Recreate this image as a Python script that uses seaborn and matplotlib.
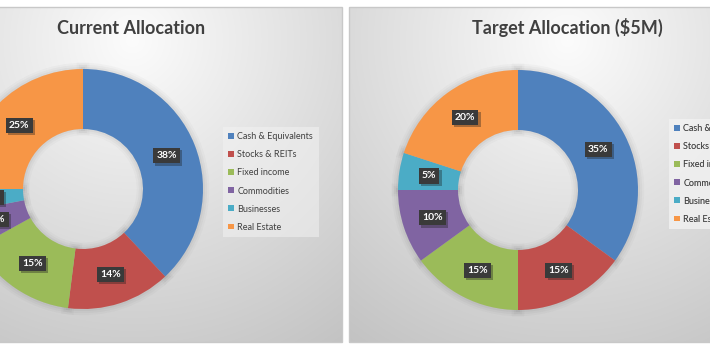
import numpy as np
import matplotlib
matplotlib.use("Agg")
import matplotlib.pyplot as plt
import matplotlib.patheffects as pe
from matplotlib.patches import Rectangle
import seaborn as sns

# ---- data ----
categories = ["Cash & Equivalents", "Stocks & REITs", "Fixed income",
              "Commodities", "Businesses", "Real Estate"]
current_values = [38, 14, 15, 5, 3, 25]
target_values = [35, 15, 15, 10, 5, 20]
titles = ["Current Allocation", "Target Allocation ($5M)"]
colors = ["#4F81BD", "#C0504D", "#9BBB59", "#8064A2", "#4BACC6", "#F79646"]

sns.set_theme(style="white")
plt.rcParams['font.family'] = ['Lato', 'DejaVu Sans']

W, H = 710, 349
fig = plt.figure(figsize=(W / 100, H / 100), dpi=100)
fig.patch.set_facecolor("white")
ax = fig.add_axes([0, 0, 1, 1])


def Y(y):
    return H - y


# layout of the two chart panels (pixel positions, measured from the top)
panels = [
    dict(x0=-86, x1=342, cx=83, cy=189, tx=131, ty=28, lx=223, ly=127),
    dict(x0=349, x1=777, cx=518, cy=190, tx=567, ty=27, lx=669, ly=119),
]
py0, py1 = 7, 342
series = [current_values, target_values]

for p, vals, title in zip(panels, series, titles):
    # radial gradient background
    xs = np.arange(p["x0"], p["x1"])
    ys = np.arange(py0, py1)
    XX, YY = np.meshgrid(xs, ys)
    gcx = p["x0"] + 218
    d = np.hypot(XX - gcx, (YY - 40) * 1.0)
    g = np.clip(252 - 0.155 * d, 188, 253) / 255.0
    img = np.dstack([g, g, g])
    ax.imshow(img, extent=(p["x0"], p["x1"], Y(py1), Y(py0)), origin="upper",
              interpolation="bilinear", zorder=0)
    ax.add_patch(Rectangle((p["x0"], Y(py1)), p["x1"] - p["x0"], py1 - py0,
                           fill=False, ec="#c8c8c8", lw=1, zorder=0.5))

    # soft shadow (same wedges, only glow drawn)
    sh, _ = ax.pie(vals, startangle=90, counterclock=False,
                   center=(p["cx"], Y(p["cy"])), radius=120,
                   wedgeprops=dict(width=60, lw=0))
    for w in sh:
        w.set_zorder(1)
        w.set_path_effects([
            pe.Stroke(linewidth=9, foreground="k", alpha=0.025),
            pe.Stroke(linewidth=6, foreground="k", alpha=0.03),
            pe.Stroke(linewidth=3, foreground="k", alpha=0.04),
        ])

    wedges, _, autotexts = ax.pie(
        vals, colors=colors, startangle=90, counterclock=False,
        center=(p["cx"], Y(p["cy"])), radius=120,
        wedgeprops=dict(width=60, lw=0, zorder=2),
        autopct=lambda v: f"{v:.0f}%", pctdistance=0.75,
        textprops=dict(color="white", fontsize=7.5, fontweight="bold"))
    for w in wedges:
        w.set_zorder(2)
    for t in autotexts:
        t.set_zorder(4)
        t.set_bbox(dict(boxstyle="square,pad=0.3", fc="#3a3a3a", ec="none"))
        t.get_bbox_patch().set_path_effects(
            [pe.SimplePatchShadow(offset=(1.5, -1.5), shadow_rgbFace="k", alpha=0.35),
             pe.Normal()])

    ax.text(p["tx"], Y(p["ty"]), title, ha="center", va="center",
            fontsize=13, fontweight="bold", color="#404040", zorder=5)

    leg = ax.legend(wedges, categories, loc="upper left",
                    bbox_to_anchor=(p["lx"], Y(p["ly"])),
                    bbox_transform=ax.transData, borderaxespad=0,
                    frameon=True, fancybox=False, facecolor="#f2f2f2",
                    edgecolor="none", framealpha=0.55, fontsize=6.5,
                    handlelength=0.6, handleheight=0.6, handletextpad=0.4,
                    labelspacing=1.0, borderpad=0.6, labelcolor="#404040")
    leg.set_zorder(5)
    ax.add_artist(leg)

ax.set_xlim(0, W)
ax.set_ylim(0, H)
ax.set_aspect("auto")
ax.axis("off")

fig.savefig("out.png", dpi=100, facecolor="white")
